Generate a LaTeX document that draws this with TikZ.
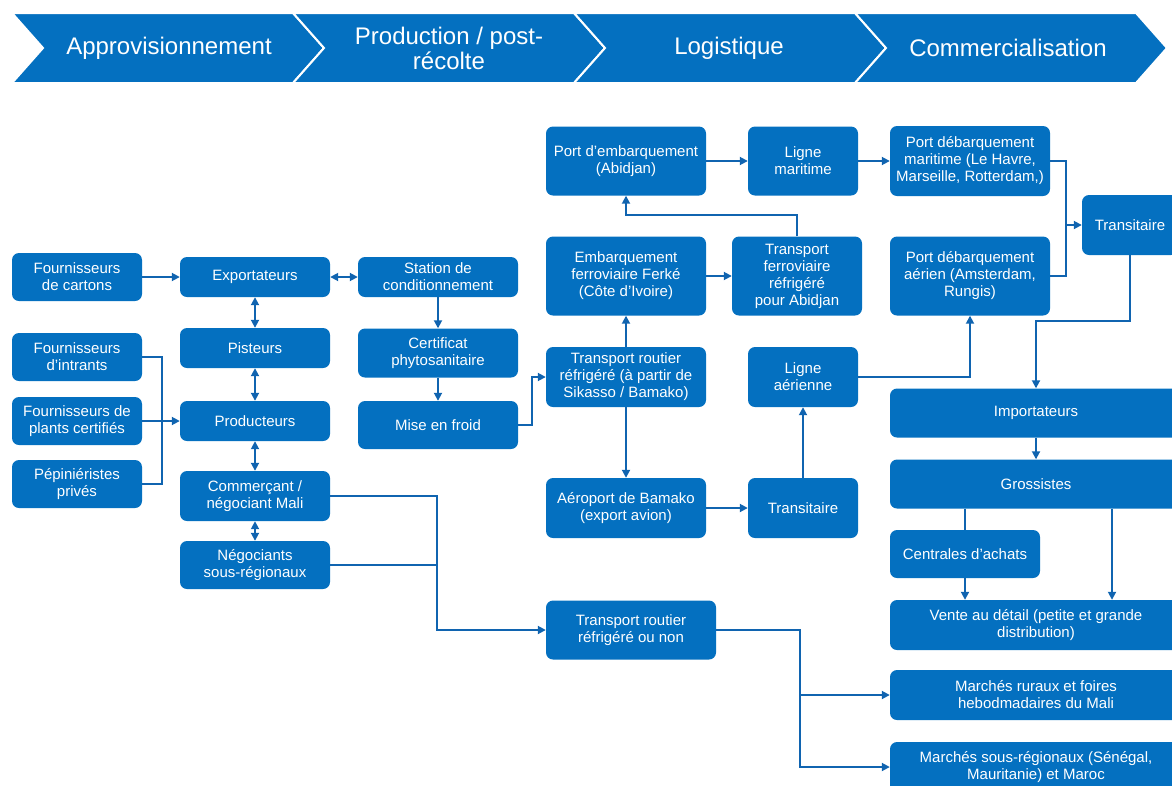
\documentclass[tikz,border=0pt]{standalone}
\usepackage{fontspec}
\setmainfont{Liberation Sans}
\usetikzlibrary{arrows.meta}
\definecolor{bleu}{RGB}{4,112,192}
\definecolor{trait}{RGB}{16,100,176}

\begin{document}
\begin{tikzpicture}[x=1pt, y=-1pt,
  boite/.style={fill=bleu, rounded corners=7pt, text=white, align=center, inner sep=1pt, font=\fontsize{15}{17}\selectfont},
  taille/.style 2 args={minimum width=#1pt, minimum height=#2pt},
  chev/.style={fill=bleu, draw=white, line width=2pt},
  titre/.style={text=white, align=center, font=\fontsize{24}{25}\selectfont},
  ln/.style={draw=trait, line width=1.8pt},
  fl/.style={ln, -{Triangle[length=8pt,width=8pt]}},
  dfl/.style={ln, {Triangle[length=8pt,width=8pt]}-{Triangle[length=8pt,width=8pt]}}]
\useasboundingbox (0,0) rectangle (1172,785);
\clip (0,0) rectangle (1172,785);

\foreach \x in {12,293,574,855}
  \draw[chev] (\x,13) -- (\x+281,13) -- (\x+312,48) -- (\x+281,83) -- (\x,83) -- (\x+31,48) -- cycle;
\node[titre] (happ) at (169,48) {Approvisionnement};
\node[titre] (hprod) at (449,48) {Production / post-\\récolte};
\node[titre] (hlog) at (729,48) {Logistique};
\node[titre] (hcom) at (1008,48) {Commercialisation};

\node[boite, taille={130}{48}] (fcart) at (77,277) {Fournisseurs\\de cartons};
\node[boite, taille={130}{48}] (fintr) at (77,357) {Fournisseurs\\d'intrants};
\node[boite, taille={130}{48}] (fplan) at (77,421) {Fournisseurs de\\plants certifiés};
\node[boite, taille={130}{48}] (pepin) at (77,484) {Pépiniéristes\\privés};

\node[boite, taille={150}{40}] (expo) at (255,277) {Exportateurs};
\node[boite, taille={150}{40}] (pist) at (255,348) {Pisteurs};
\node[boite, taille={150}{40}] (prod) at (255,421) {Producteurs};
\node[boite, taille={150}{50}] (comm) at (255,496) {Commerçant /\\négociant Mali};
\node[boite, taille={150}{48}] (nego) at (255,565) {Négociants\\sous-régionaux};

\node[boite, taille={160}{40}] (stat) at (438,277) {Station de\\conditionnement};
\node[boite, taille={160}{49}] (cert) at (438,353) {Certificat\\phytosanitaire};
\node[boite, taille={160}{48}] (froid) at (438,425) {Mise en froid};

\node[boite, taille={160}{69}] (pemb) at (626,161) {Port d'embarquement\\(Abidjan)};
\node[boite, taille={160}{79}] (ferke) at (626,276) {Embarquement\\ferroviaire Ferké\\(Côte d'Ivoire)};
\node[boite, taille={160}{60}] (troute) at (626,377) {Transport routier\\réfrigéré (à partir de\\Sikasso / Bamako)};
\node[boite, taille={160}{60}] (aero) at (626,508) {Aéroport de Bamako\\(export avion)};
\node[boite, taille={170}{59}] (trnon) at (631,630) {Transport routier\\réfrigéré ou non};

\node[boite, taille={110}{69}] (lmar) at (803,161) {Ligne\\maritime};
\node[boite, taille={130}{79}] (tferr) at (797,276) {Transport\\ferroviaire\\réfrigéré\\pour Abidjan};
\node[boite, taille={110}{60}] (laer) at (803,377) {Ligne\\aérienne};
\node[boite, taille={110}{60}] (trans) at (803,508) {Transitaire};

\node[boite, taille={160}{70}] (pdmar) at (970,161) {Port débarquement\\maritime (Le Havre,\\Marseille, Rotterdam,)};
\node[boite, taille={160}{79}] (pdaer) at (970,276) {Port débarquement\\aérien (Amsterdam,\\Rungis)};
\node[boite, taille={96}{60}] (transr) at (1130,225) {Transitaire};

\node[boite, taille={292}{49}] (impo) at (1036,413) {Importateurs};
\node[boite, taille={292}{49}] (gros) at (1036,484) {Grossistes};
\node[boite, taille={150}{48}] (centr) at (965,554) {Centrales d'achats};
\node[boite, taille={292}{50}] (vente) at (1036,625) {Vente au détail (petite et grande\\distribution)};
\node[boite, taille={292}{50}] (mrur) at (1036,695) {Marchés ruraux et foires\\hebodmadaires du Mali};
\node[boite, taille={292}{50}] (msous) at (1036,767) {Marchés sous-régionaux (Sénégal,\\Mauritanie) et Maroc};

\coordinate (bus) at (162,421);
\coordinate (coude) at (437,565);
\coordinate (jonc) at (1066,225);
\coordinate (fourche) at (800,695);

\draw[fl] (fcart.east) -- (expo.west);
\draw[dfl] (expo.east) -- (stat.west);
\draw[dfl] (expo.south) -- (pist.north);
\draw[dfl] (pist.south) -- (prod.north);
\draw[dfl] (prod.south) -- (comm.north);
\draw[dfl] (comm.south) -- (nego.north);
\draw[ln] (fintr.east) -| (bus) |- (pepin.east);
\draw[fl] (fplan.east) -- (prod.west);
\draw[fl] (stat.south) -- (cert.north);
\draw[fl] (cert.south) -- (froid.north);
\draw[fl] (froid.east) -- ++(14,0) |- (troute.west);
\draw[fl] (troute.north) -- (ferke.south);
\draw[fl] (troute.south) -- (aero.north);
\draw[fl] (ferke.east) -- (tferr.west);
\draw[fl] (tferr.north) -- ++(0,-21) -| (pemb.south);
\draw[fl] (pemb.east) -- (lmar.west);
\draw[fl] (lmar.east) -- (pdmar.west);
\draw[fl] (aero.east) -- (trans.west);
\draw[fl] (trans.north) -- (laer.south);
\draw[fl] (laer.east) -| (pdaer.south);
\draw[ln] (pdmar.east) -| (jonc);
\draw[ln] (pdaer.east) -| (jonc);
\draw[fl] (jonc) -- (transr.west);
\draw[fl] (transr.south) -- ++(0,66) -| (impo.north);
\draw[fl] (impo.south) -- (gros.north);
\draw[ln] (centr.north |- gros.south) -- (centr.north);
\draw[fl] (centr.south) -- (centr.south |- vente.north);
\draw[fl] ([xshift=76pt]gros.south) -- ([xshift=76pt]vente.north);
\draw[fl] (comm.east) -| (coude) |- (trnon.west);
\draw[ln] (nego.east) -- (coude);
\draw[ln] (trnon.east) -| (fourche);
\draw[fl] (fourche) -- (mrur.west);
\draw[fl] (fourche) |- (msous.west);
\end{tikzpicture}
\end{document}
